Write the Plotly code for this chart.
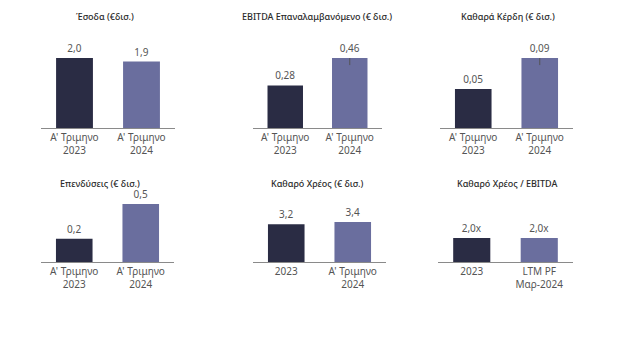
import plotly.graph_objects as go

# ---- data ----
titles = ["Έσοδα (€δισ.)", "EBITDA Επαναλαμβανόμενο (€ δισ.)", "Καθαρά Κέρδη (€ δισ.)",
          "Επενδύσεις (€ δισ.)", "Καθαρό Χρέος (€ δισ.)", "Καθαρό Χρέος / EBITDA"]
cats_q = ["Α' Τριμηνο<br>2023", "Α' Τριμηνο<br>2024"]
cats_debt = ["2023", "Α' Τριμηνο<br>2024"]
cats_lev = ["2023", "LTM PF<br>Μαρ-2024"]
revenue = [2.0, 1.9]
ebitda = [0.28, 0.46]
net_profit = [0.05, 0.09]
capex = [0.2, 0.5]
net_debt = [3.2, 3.4]
leverage = [2.0, 2.0]
label_revenue = ["2,0", "1,9"]
label_ebitda = ["0,28", "0,46"]
label_profit = ["0,05", "0,09"]
label_capex = ["0,2", "0,5"]
label_debt = ["3,2", "3,4"]
label_lev = ["2,0x", "2,0x"]

W, H = 624, 353
DARK = "#2a2c44"
LIGHT = "#6a6e9e"
FONT = "Noto Sans"

def px(x):
    return x / W

def py(y):
    return 1 - y / H

panels = [
    # cats, values, labels, x0, x1, ytop, ybase, range_max, marker flags
    (cats_q, revenue, label_revenue, 41, 175, 27, 128, 2.0 * 101 / 70, False),
    (cats_q, ebitda, label_ebitda, 253, 382, 27, 128, 0.46 * 101 / 70, True),
    (cats_q, net_profit, label_profit, 440, 573, 27, 128, 0.09 * 101 / 70, True),
    (cats_q, capex, label_capex, 41, 174, 190, 262, 0.5 * 72 / 58, False),
    (cats_debt, net_debt, label_debt, 253, 386, 190, 262, 3.4 * 72 / 40, False),
    (cats_lev, leverage, label_lev, 438, 573, 190, 262, 2.0 * 72 / 24, False),
]

fig = go.Figure()
layout = {}
for i, (cats, vals, labels, x0, x1, yt, yb, rmax, tick) in enumerate(panels):
    n = i + 1
    xa = "x" if n == 1 else f"x{n}"
    ya = "y" if n == 1 else f"y{n}"
    trace = go.Bar(
        x=cats, y=vals, text=labels, textposition="outside", cliponaxis=False,
        marker=dict(color=[DARK, LIGHT], line=dict(width=0)),
        width=0.55,
        textfont=dict(family=FONT, size=10, color="#555555"),
        xaxis=xa, yaxis=ya, showlegend=False, hoverinfo="skip",
    )
    if tick:
        trace.error_y = dict(type="data", symmetric=False, array=[0, 0],
                             arrayminus=[0, rmax * 0.07], color="#555555",
                             thickness=1, width=0)
    fig.add_trace(trace)
    xkey = "xaxis" if n == 1 else f"xaxis{n}"
    ykey = "yaxis" if n == 1 else f"yaxis{n}"
    layout[xkey] = dict(domain=[px(x0), px(x1)], anchor=ya, range=[-0.5, 1.5],
                        showline=True, linecolor="#8a8a8a", linewidth=1.2,
                        ticks="", showgrid=False, zeroline=False, fixedrange=True,
                        tickfont=dict(family=FONT, size=10, color="#555555"))
    layout[ykey] = dict(domain=[py(yb), py(yt)], anchor=xa, range=[0, rmax],
                        visible=False, showgrid=False, zeroline=False, fixedrange=True)

annotations = []
title_pos = [(105, 17), (317, 17), (508, 17), (100, 183), (317, 183), (507, 183)]
for t, (tx, ty) in zip(titles, title_pos):
    annotations.append(dict(text=t, x=px(tx), y=py(ty), xref="paper", yref="paper",
                            showarrow=False, xanchor="center", yanchor="middle",
                            font=dict(family=FONT, size=9, color="#2a2a2a", weight=500)))

fig.update_layout(
    width=W, height=H, margin=dict(l=0, r=0, t=0, b=0),
    paper_bgcolor="white", plot_bgcolor="white",
    annotations=annotations, bargap=0.45,
    **layout,
)
fig.write_html("out.html")
